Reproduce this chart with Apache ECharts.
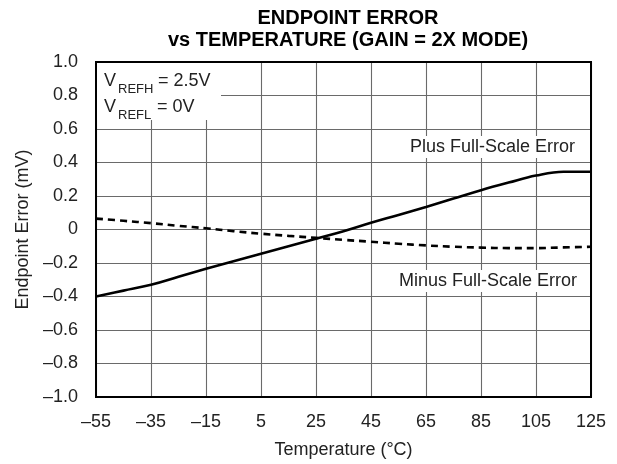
<!DOCTYPE html>
<html><head><meta charset="utf-8">
<script src="https://cdn.jsdelivr.net/npm/echarts@6/dist/echarts.min.js"></script>
<style>html,body{margin:0;padding:0;background:#fff}#c{width:617px;height:464px}</style>
</head><body><div id="c"></div>
<script>
const temps = [-55,-45,-35,-25,-15,-5,5,15,25,35,45,55,65,75,85,95,105,115,125];
const plusErr = [-0.40,-0.365,-0.33,-0.282,-0.235,-0.19,-0.145,-0.10,-0.055,-0.01,0.04,0.087,0.135,0.185,0.235,0.28,0.322,0.345,0.345];
const minusErr = [0.065,0.052,0.038,0.022,0.007,-0.01,-0.025,-0.038,-0.05,-0.062,-0.073,-0.085,-0.095,-0.103,-0.108,-0.111,-0.111,-0.107,-0.103];
const xTicks = [-55,-35,-15,5,25,45,65,85,105,125];
const yTicks = [-1.0,-0.8,-0.6,-0.4,-0.2,0,0.2,0.4,0.6,0.8,1.0];
const titleLines = ['ENDPOINT ERROR','vs TEMPERATURE (GAIN = 2X MODE)'];
const xName = 'Temperature (°C)';
const yName = 'Endpoint Error (mV)';
const plusLabel = 'Plus Full-Scale Error';
const minusLabel = 'Minus Full-Scale Error';

const FONT = 'Liberation Sans, Arial, Helvetica, sans-serif';
const TXT = '#222';
const dash = s => String(s).replace('-', '\u2013');
const chart = echarts.init(document.getElementById('c'));
const G = {left:96, right:26, top:62, bottom:66};
const gridLine = {show:true, lineStyle:{color:'#6a6a6a', width:1.1}};
chart.setOption({
  animation:false,
  backgroundColor:'#fff',
  title:{
    text:titleLines.join('\n'), left:343, top:2, textAlign:'center',
    textStyle:{fontFamily:FONT, fontSize:20, fontWeight:'bold', color:'#000', lineHeight:22}
  },
  grid:{left:G.left, right:G.right, top:G.top, bottom:G.bottom, show:true, borderColor:'#000', borderWidth:2, backgroundColor:'transparent', z:3},
  xAxis:{
    type:'value', min:-55, max:125, interval:20,
    name:xName, nameLocation:'middle', nameGap:44,
    nameTextStyle:{fontFamily:FONT, fontSize:18, color:TXT},
    axisLine:{show:false, onZero:false},
    axisTick:{show:false},
    axisLabel:{fontFamily:FONT, fontSize:18, color:TXT, margin:16, formatter:v=>dash(v)},
    splitLine:gridLine
  },
  yAxis:{
    type:'value', min:-1, max:1, interval:0.2,
    name:yName, nameLocation:'middle', nameGap:63, nameRotate:90,
    nameTextStyle:{fontFamily:FONT, fontSize:18, color:TXT},
    axisLine:{show:false, onZero:false},
    axisTick:{show:false},
    axisLabel:{fontFamily:FONT, fontSize:18, color:TXT, margin:18, formatter:v=>Math.abs(v)<1e-9?'0':dash(v.toFixed(1))},
    splitLine:gridLine
  },
  series:[
    {name:'Plus', type:'line', smooth:0.4, symbol:'none', data:temps.map((t,i)=>[t,plusErr[i]]),
     lineStyle:{color:'#000', width:2.6}, z:4},
    {name:'Minus', type:'line', smooth:0.4, symbol:'none', data:temps.map((t,i)=>[t,minusErr[i]]),
     lineStyle:{color:'#000', width:2.6, type:[7,5]}, z:4}
  ],
  graphic:[
    {type:'rect', shape:{x:97, y:63, width:124, height:57}, style:{fill:'#fff'}, z:10},
    {type:'text', x:104, y:81, style:{text:'V', font:'18px '+FONT, fill:TXT, textVerticalAlign:'middle'}, z:11},
    {type:'text', x:118, y:89, style:{text:'REFH', font:'13px '+FONT, fill:TXT, textVerticalAlign:'middle'}, z:11},
    {type:'text', x:158, y:81, style:{text:'= 2.5V', font:'18px '+FONT, fill:TXT, textVerticalAlign:'middle'}, z:11},
    {type:'text', x:104, y:107, style:{text:'V', font:'18px '+FONT, fill:TXT, textVerticalAlign:'middle'}, z:11},
    {type:'text', x:118, y:115, style:{text:'REFL', font:'13px '+FONT, fill:TXT, textVerticalAlign:'middle'}, z:11},
    {type:'text', x:157, y:107, style:{text:'= 0V', font:'18px '+FONT, fill:TXT, textVerticalAlign:'middle'}, z:11},
    {type:'text', x:579, y:147, style:{text:plusLabel, font:'18px '+FONT, fill:TXT, textAlign:'right', textVerticalAlign:'middle', backgroundColor:'#fff', padding:[2,4]}, z:11},
    {type:'text', x:581, y:281, style:{text:minusLabel, font:'18px '+FONT, fill:TXT, textAlign:'right', textVerticalAlign:'middle', backgroundColor:'#fff', padding:[2,4]}, z:11}
  ]
});
</script></body></html>
